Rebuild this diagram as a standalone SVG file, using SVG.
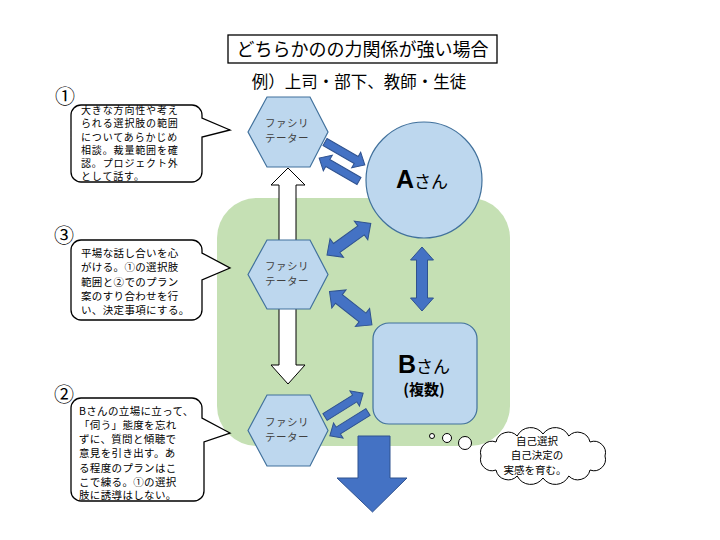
<svg xmlns="http://www.w3.org/2000/svg" width="720" height="540" viewBox="0 0 720 540">
<style>
.jp{font-family:"Noto Sans CJK JP","Noto Sans",sans-serif}
.node{fill:#bdd7ee;stroke:#41719c;stroke-width:1.2}
.hex{fill:#bdd7ee;stroke:#41719c;stroke-width:1.2}
.ht{font-size:10.5px;fill:#404040;text-anchor:middle;letter-spacing:0.5px}
.blue{fill:#4472c4;stroke:#2f528f;stroke-width:1}
.call{fill:#fff;stroke:#000;stroke-width:1.3}
.ct{font-size:10.5px;fill:#000;letter-spacing:0.35px}
.ct1{font-size:10px;fill:#000;letter-spacing:0.85px}
.num{font-size:20px;fill:#000;text-anchor:middle}
.ot{font-size:10.5px;fill:#000;text-anchor:middle}
</style>
<rect width="720" height="540" fill="#fff"/>
<g id="title">
<rect x="228" y="35" width="269" height="28" fill="#fff" stroke="#000" stroke-width="1.3"/>
<text class="jp" x="362.5" y="56" font-size="18" text-anchor="middle">どちらかのの力関係が強い場合</text>
<text class="jp" x="359" y="88" font-size="16.5" text-anchor="middle">例）上司・部下、教師・生徒</text>
</g>
<g id="area">
<rect x="217" y="198" width="293" height="248" rx="40" fill="#c5e0b4"/>
</g>
<g id="connectors">
<polygon points="288,168 305,185 296,185 296,365 305,365 288,384 271,365 279,365 279,185 271,185" fill="#fff" stroke="#000" stroke-width="1"/>
<polygon class="blue" transform="translate(325,142) rotate(30)" points="0,-4 36,-4 36,-9 46,0 36,9 36,4 0,4"/>
<polygon class="blue" transform="translate(359,181) rotate(210)" points="0,-4 36,-4 36,-9 46,0 36,9 36,4 0,4"/>
<polygon class="blue" transform="translate(327,255) rotate(-35.8)" points="0,0 12,-11.5 12,-5.5 42,-5.5 42,-11.5 54,0 42,11.5 42,5.5 12,5.5 12,11.5"/>
<polygon class="blue" transform="translate(329.5,291.5) rotate(38.2)" points="0,0 12,-11.5 12,-5.5 42,-5.5 42,-11.5 54,0 42,11.5 42,5.5 12,5.5 12,11.5"/>
<polygon class="blue" transform="translate(422,247) rotate(90)" points="0,0 13,-11.5 13,-5.5 51,-5.5 51,-11.5 64,0 51,11.5 51,5.5 13,5.5 13,11.5"/>
<polygon class="blue" transform="translate(325,417) rotate(-32)" points="0,-4 35,-4 35,-9 45,0 35,9 35,4 0,4"/>
<polygon class="blue" transform="translate(368,412) rotate(148)" points="0,-4 35,-4 35,-9 45,0 35,9 35,4 0,4"/>
<polygon class="blue" points="358,436 390,436 390,478 407,478 372.5,512 337,478 358,478"/>
</g>
<g id="nodeA">
<circle class="node" cx="424" cy="180" r="58"/>
<text x="422" y="188" text-anchor="middle"><tspan font-family="Liberation Sans,sans-serif" font-weight="bold" font-size="25">A</tspan><tspan class="jp" font-size="17">さん</tspan></text>
</g>
<g id="nodeB">
<rect class="node" x="373" y="323" width="104" height="101" rx="16"/>
<text x="424" y="373" text-anchor="middle"><tspan font-family="Liberation Sans,sans-serif" font-weight="bold" font-size="25">B</tspan><tspan class="jp" font-size="17">さん</tspan></text>
<text class="jp" x="424" y="395" text-anchor="middle" font-size="15" font-weight="bold">(複数)</text>
</g>
<g id="fac1">
<polygon class="hex" points="248,132 267,97 310,97 328,132 310,167 267,167"/>
<text class="jp ht" x="287" y="127">ファシリ</text>
<text class="jp ht" x="287" y="142">テーター</text>
</g>
<g id="fac3">
<polygon class="hex" points="248,274.5 267,240 310,240 328,274.5 310,309 267,309"/>
<text class="jp ht" x="287" y="270">ファシリ</text>
<text class="jp ht" x="287" y="285">テーター</text>
</g>
<g id="fac2">
<polygon class="hex" points="248,430.5 267,395 310,395 328,430.5 310,466 267,466"/>
<text class="jp ht" x="287" y="426">ファシリ</text>
<text class="jp ht" x="287" y="441">テーター</text>
</g>
<g id="callout1">
<text class="jp num" x="65" y="104">①</text>
<path class="call" d="M81,105 H192 A10,10 0 0 1 202,115 V118 L230,130 L202,137 V172 A10,10 0 0 1 192,182 H81 A10,10 0 0 1 71,172 V115 A10,10 0 0 1 81,105 Z"/>
<text class="jp ct1" x="81" y="114">大きな方向性や考え</text>
<text class="jp ct1" x="81" y="127.3">られる選択肢の範囲</text>
<text class="jp ct1" x="81" y="140.6">についてあらかじめ</text>
<text class="jp ct1" x="81" y="154">相談。裁量範囲を確</text>
<text class="jp ct1" x="81" y="167.2">認。プロジェクト外</text>
<text class="jp ct1" x="81" y="180">として話す。</text>
</g>
<g id="callout3">
<text class="jp num" x="64" y="243">③</text>
<path class="call" d="M81,240 H192 A10,10 0 0 1 202,250 V253 L230,268 L202,280 V310 A10,10 0 0 1 192,320 H81 A10,10 0 0 1 71,310 V250 A10,10 0 0 1 81,240 Z"/>
<text class="jp ct" x="81" y="257">平場な話し合いを心</text>
<text class="jp ct" x="81" y="271.3">がける。①の選択肢</text>
<text class="jp ct" x="81" y="285.6">範囲と②でのプラン</text>
<text class="jp ct" x="81" y="300">案のすり合わせを行</text>
<text class="jp ct" x="81" y="314">い、決定事項にする。</text>
</g>
<g id="callout2">
<text class="jp num" x="64" y="402">②</text>
<path class="call" d="M81,398 H192 A10,10 0 0 1 202,408 V418 L230,433 L204,442 V491 A10,10 0 0 1 194,501 H81 A10,10 0 0 1 71,491 V408 A10,10 0 0 1 81,398 Z"/>
<text class="jp ct" x="79" y="415">Bさんの立場に立って、</text>
<text class="jp ct" x="79" y="429">「伺う」態度を忘れ</text>
<text class="jp ct" x="79" y="443">ずに、質問と傾聴で</text>
<text class="jp ct" x="79" y="457">意見を引き出す。あ</text>
<text class="jp ct" x="79" y="471.5">る程度のプランはこ</text>
<text class="jp ct" x="79" y="485.5">こで練る。①の選択</text>
<text class="jp ct" x="79" y="499">肢に誘導はしない。</text>
</g>
<g id="thought">
<circle cx="432" cy="436" r="2.5" fill="#fff" stroke="#000" stroke-width="1"/>
<circle cx="447" cy="438" r="4.5" fill="#fff" stroke="#000" stroke-width="1"/>
<circle cx="465" cy="443" r="6.5" fill="#fff" stroke="#000" stroke-width="1"/>
<path d="M605,456 A11.5,11.5 0 0 1 590,470 A12.5,12.5 0 0 1 568.8,476 A15,15 0 0 1 543,478 A15,15 0 0 1 517.2,476 A12.5,12.5 0 0 1 496,470 A11.5,11.5 0 0 1 481,456 A11.5,11.5 0 0 1 496,442 A12.5,12.5 0 0 1 517.2,436 A15,15 0 0 1 543,434 A15,15 0 0 1 568.8,436 A12.5,12.5 0 0 1 590,442 A11.5,11.5 0 0 1 605,456 Z" fill="#fff" stroke="#000" stroke-width="1"/>
<text class="jp ot" x="537" y="444.5">自己選択</text>
<text class="jp ot" x="537" y="459">自己決定の</text>
<text class="jp ot" x="535" y="473.5">実感を育む。</text>
</g>
</svg>
